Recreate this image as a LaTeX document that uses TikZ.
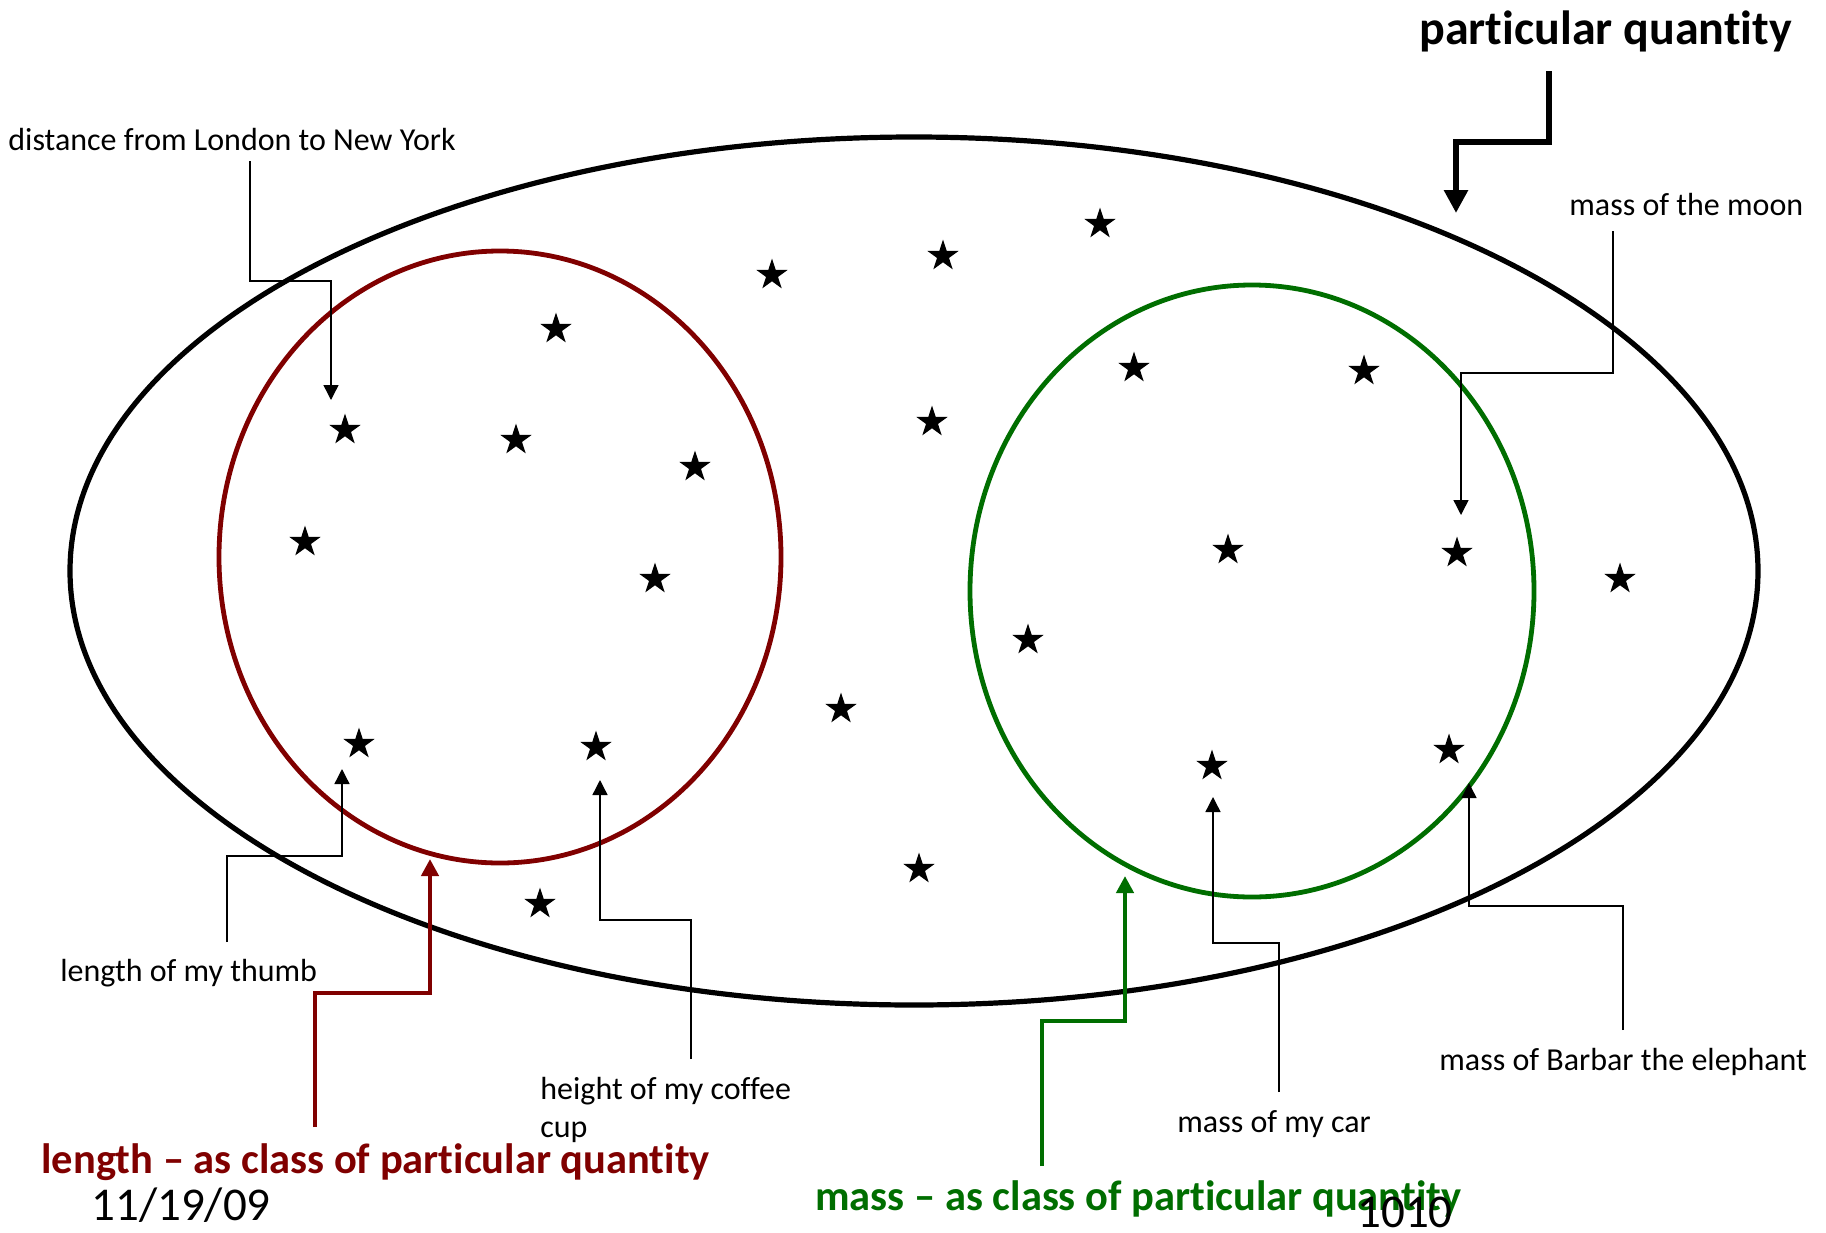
\documentclass[tikz,border=0pt]{standalone}
\usepackage{fontspec}
\setmainfont{Carlito}[Ligatures={TeX,NoCommon}]
\usetikzlibrary{shapes.geometric,arrows.meta}
\definecolor{lenred}{RGB}{128,0,0}
\definecolor{massgreen}{RGB}{0,110,0}

\begin{document}
\begin{tikzpicture}[x=0.5pt,y=-0.5pt,
  starnode/.style={star,star points=5,star point ratio=2.618,fill=black,
    draw=none,inner sep=0pt,minimum size=16.5pt},
  leadtext/.style={anchor=base west,inner sep=0pt,
    font=\fontsize{16}{19}\selectfont},
  leader/.style={line width=0.7pt,-{Triangle[width=7.5pt,length=7.5pt]}},
  classarrow/.style={line width=2.4pt,-{Triangle[width=8.5pt,length=8.5pt]}},
  classtext/.style={anchor=base west,inner sep=0pt,
    font=\bfseries\fontsize{21.25}{25}\selectfont},
  footer/.style={anchor=base west,inner sep=0pt,
    font=\fontsize{23.5}{28}\selectfont},
  set/.style={draw,ellipse,inner sep=0pt,line width=2.4pt}
]
\useasboundingbox (0,0) rectangle (1826,1232);
\fill[white] (0,0) rectangle (1826,1232);

% the universe of particular quantities and its two classes
\node[set,line width=2.6pt,minimum width=844pt,minimum height=434pt] (all) at (914,571) {};
\node[set,draw=lenred,minimum width=281pt,minimum height=306pt] (length) at (500,557) {};
\node[set,draw=massgreen,minimum width=282pt,minimum height=306pt] (mass) at (1252,591) {};

% particular quantities
\node[starnode] (s1)  at (1100,224) {};
\node[starnode] (s2)  at (943,256) {};
\node[starnode] (s3)  at (772,275) {};
\node[starnode] (s4)  at (556,329) {};
\node[starnode] (s5)  at (345,430) {};
\node[starnode] (s6)  at (516,440) {};
\node[starnode] (s7)  at (695,467) {};
\node[starnode] (s8)  at (932,422) {};
\node[starnode] (s9)  at (305,542) {};
\node[starnode] (s10) at (655,579) {};
\node[starnode] (s11) at (1134,368) {};
\node[starnode] (s12) at (1364,371) {};
\node[starnode] (s13) at (1228,550) {};
\node[starnode] (s14) at (1457,553) {};
\node[starnode] (s15) at (1620,579) {};
\node[starnode] (s16) at (1028,640) {};
\node[starnode] (s17) at (841,709) {};
\node[starnode] (s18) at (359,744) {};
\node[starnode] (s19) at (596,747) {};
\node[starnode] (s20) at (1212,766) {};
\node[starnode] (s21) at (1449,750) {};
\node[starnode] (s22) at (919,869) {};
\node[starnode] (s23) at (540,904) {};

% labels of individual quantities
\node[leadtext] (dist)   at (8,150)     {distance from London to New York};
\node[leadtext] (moon)   at (1569,215)  {mass of the moon};
\node[leadtext] (thumb)  at (60,981)    {length of my thumb};
\node[leadtext,align=left] (coffee) at (540,1137) {height of my coffee\\cup};
\node[leadtext] (car)    at (1177,1132) {mass of my car};
\node[leadtext] (barbar) at (1439,1070) {mass of Barbar the elephant};

% class labels
\node[anchor=base west,inner sep=0pt,font=\bfseries\fontsize{24}{29}\selectfont] (pq) at (1419,44) {particular quantity};
\node[classtext,text=lenred] (lenlab) at (41,1173) {length – as class of particular quantity};
\node[classtext,text=massgreen] (masslab) at (815,1210) {mass – as class of particular quantity};

% slide footer
\node[footer] (date) at (91,1220) {11/19/09};
\node[footer] (page) at (1357,1227) {1010};

% leader line end points
\coordinate (dist-a) at (250,161);   \coordinate (dist-b) at (331,281);   \coordinate (dist-t) at (331,400);
\coordinate (moon-a) at (1613,231);  \coordinate (moon-b) at (1461,373);  \coordinate (moon-t) at (1461,515);
\coordinate (thumb-a) at (227,942);  \coordinate (thumb-b) at (342,856);  \coordinate (thumb-t) at (342,769);
\coordinate (coffee-a) at (691,1059);\coordinate (coffee-b) at (600,920); \coordinate (coffee-t) at (600,780);
\coordinate (car-a) at (1279,1092);  \coordinate (car-b) at (1213,943);   \coordinate (car-t) at (1213,797);
\coordinate (barbar-a) at (1623,1030);\coordinate (barbar-b) at (1469,906);\coordinate (barbar-t) at (1469,783);
\coordinate (pq-a) at (1549,71);     \coordinate (pq-b) at (1456,142);    \coordinate (pq-t) at (1456,213);
\coordinate (len-a) at (315,1127);   \coordinate (len-b) at (430,993);    \coordinate (len-t) at (430,859);
\coordinate (mass-a) at (1042,1166); \coordinate (mass-b) at (1125,1021); \coordinate (mass-t) at (1125,876);

% leaders from labels to quantities
\draw[leader] (dist-a) |- (dist-b) -- (dist-t);
\draw[leader] (moon-a) |- (moon-b) -- (moon-t);
\draw[leader] (thumb-a) |- (thumb-b) -- (thumb-t);
\draw[leader] (coffee-a) |- (coffee-b) -- (coffee-t);
\draw[leader] (car-a) |- (car-b) -- (car-t);
\draw[leader] (barbar-a) |- (barbar-b) -- (barbar-t);

% class arrows
\draw[line width=3.3pt,-{Triangle[width=11.5pt,length=11.5pt]}] (pq-a) |- (pq-b) -- (pq-t);
\draw[classarrow,draw=lenred] (len-a) |- (len-b) -- (len-t);
\draw[classarrow,draw=massgreen] (mass-a) |- (mass-b) -- (mass-t);
\end{tikzpicture}
\end{document}
